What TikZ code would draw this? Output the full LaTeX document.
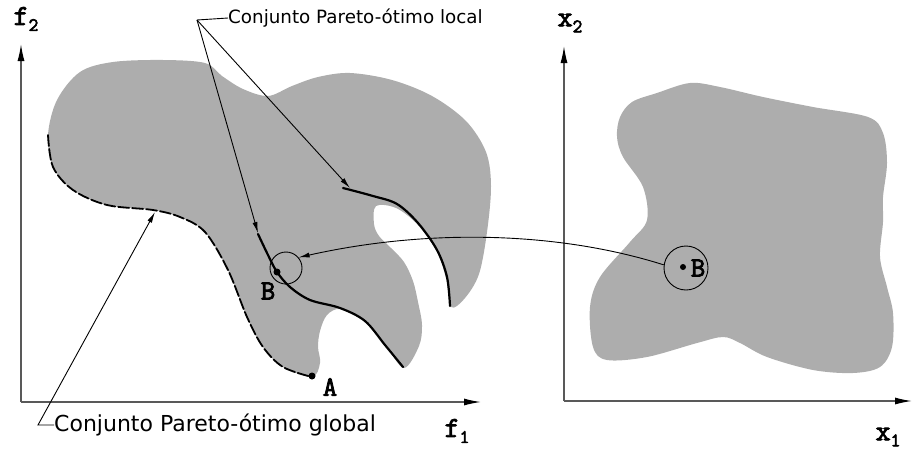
\documentclass[tikz,border=0pt]{standalone}
\usepackage{fontspec}
\setmainfont{DejaVu Sans}
\newfontfamily\typeb{Latin Modern Mono}[FakeBold=3]
\usetikzlibrary{arrows.meta}

% axis label: bold typewriter letter with lowered index
\newcommand{\axlbl}[2]{{\typeb\fontsize{29}{29}\selectfont #1}%
  \raisebox{-6pt}{\typeb\fontsize{19}{19}\selectfont #2}}
\newcommand{\ptlbl}[1]{{\typeb\fontsize{28}{28}\selectfont #1}}

\begin{document}
\begin{tikzpicture}[x=1pt,y=-1pt,
  axis/.style={draw=black!65,line width=1.3pt,-{Latex[length=17pt,width=7pt,black]}},
  region/.style={fill=black!32},
  front/.style={line width=2.2pt,line cap=round},
  pointer/.style={line width=0.9pt,-{Latex[length=11pt,width=5pt]}},
  lbl/.style={font=\fontsize{18.3}{20}\selectfont,inner sep=0pt,anchor=west},
  ptdot/.style={circle,fill=black,inner sep=0pt,minimum size=7pt},
  ring/.style={circle,draw,line width=0.9pt,inner sep=0pt,minimum size=#1}]

\useasboundingbox (0,0) rectangle (912,450);

%-------------------------------------------------------------------
% Left: objective space (f1,f2)
\coordinate (O1) at (21,402);
\coordinate (f1end) at (481,402);
\coordinate (f2end) at (21,44);
\draw[axis] (O1) -- (f1end);
\draw[axis] (O1) -- (f2end);
\node[inner sep=0pt] (f2lbl) at (26,19) {\axlbl{f}{2}};
\node[inner sep=0pt] (f1lbl) at (457,431) {\axlbl{f}{1}};

% feasible region in objective space
\fill[region] plot[smooth cycle,tension=0.55] coordinates {
  (48,135) (57,100) (80,72) (113,62) (163,60) (205,63) (222,76)
  (243,89) (268,96) (292,86) (318,77) (350,73) (392,80) (432,96)
  (466,121) (486,152) (491,186) (487,232) (479,274) (465,298) (451,307)
  (446,278) (436,250) (417,224) (396,208) (376,206) (374,224) (379,236)
  (391,248) (404,262) (413,281) (418,302) (422,325) (419,346) (404,368)
  (386,346) (365,322) (341,309) (327,315) (320,331) (318,347) (320,363)
  (312,377) (283,367) (263,347) (247,317) (228,270) (205,232) (180,217)
  (153,210) (107,205) (73,190) (53,167)};

% global Pareto-optimal front (lower-left boundary)
\draw[front,line width=1.8pt,dash pattern=on 11pt off 3pt] plot[smooth,tension=0.55] coordinates {
  (48,135) (53,167) (73,190) (107,205) (153,210) (180,217) (205,232)
  (228,270) (247,317) (263,347) (283,367) (312,377)};

% local Pareto-optimal fronts
\draw[front] plot[smooth,tension=0.55] coordinates {
  (343,188) (373,196) (397,204) (418,223) (437,250) (447,277) (450,306)};
\draw[front] plot[smooth,tension=0.55] coordinates {
  (258,234) (268,255) (277,272) (290,287) (310,300) (340,308)
  (365,321) (385,345) (403,367)};

% points A and B
\node[ptdot] (ptA) at (312,376) {};
\node[inner sep=0pt] (lblA) at (330,387) {\ptlbl{A}};
\node[ptdot] (ptB) at (277,272) {};
\node[inner sep=0pt] (lblB) at (268,291) {\ptlbl{B}};
\node[ring=32pt] (nbB) at (286,268) {};

%-------------------------------------------------------------------
% Right: decision space (x1,x2)
\coordinate (O2) at (564,401);
\coordinate (x1end) at (912,401);
\coordinate (x2end) at (564,46);
\draw[axis] (O2) -- (x1end);
\draw[axis] (O2) -- (x2end);
\node[inner sep=0pt] (x2lbl) at (570,23) {\axlbl{x}{2}};
\node[inner sep=0pt] (x1lbl) at (888,437) {\axlbl{x}{1}};

% feasible region in decision space
\fill[region] plot[smooth cycle,tension=0.55] coordinates {
  (617,137) (620,117) (632,102) (657,93) (690,83) (720,87) (763,97)
  (813,107) (868,117) (883,133) (887,163) (883,197) (883,222) (880,257)
  (887,287) (893,313) (892,347) (880,367) (853,373) (813,370) (767,357)
  (740,343) (723,337) (697,343) (647,357) (607,360) (593,347) (590,307)
  (600,277) (630,242) (647,220) (643,187) (623,157)};

\node[ptdot,minimum size=6pt] (ptB2) at (683,267) {};
\node[inner sep=0pt] (lblB2) at (698,268) {\ptlbl{B}};
\node[ring=44pt] (nbB2) at (686,268) {};

% mapping of the neighbourhood of B
\draw[pointer] (nbB2.172) .. controls (560,232) and (430,228) .. (nbB.40);

%-------------------------------------------------------------------
% Annotations
\node[lbl] (lblLocal) at (228,18) {Conjunto Pareto-ótimo local};
\coordinate (jLocal) at (197,20);
\coordinate (tipL1) at (258,233);
\coordinate (tipL2) at (350,188);
\draw[line width=0.9pt] (lblLocal.west) -- (jLocal);
\draw[pointer] (jLocal) -- (tipL1);
\draw[pointer] (jLocal) -- (tipL2);

\node[lbl,font=\fontsize{22}{24}\selectfont] (lblGlobal) at (54,425) {Conjunto Pareto-ótimo global};
\coordinate (kGlobal) at (38,425);
\coordinate (tipG) at (155,212);
\draw[pointer] (lblGlobal.west) -- (kGlobal) -- (tipG);

\end{tikzpicture}
\end{document}
